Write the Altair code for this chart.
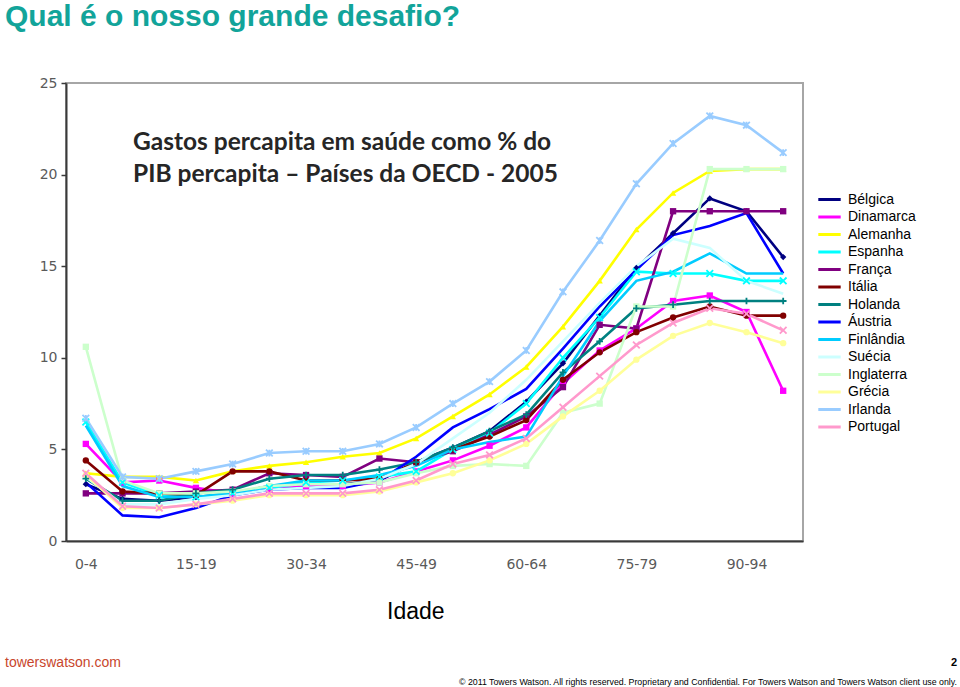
import altair as alt
import pandas as pd

ages = ["0-4", "5-9", "10-14", "15-19", "20-24", "25-29", "30-34", "35-39", "40-44", "45-49",
        "50-54", "55-59", "60-64", "65-69", "70-74", "75-79", "80-84", "85-89", "90-94", "95-99"]
shown_ages = ["0-4", "15-19", "30-34", "45-49", "60-64", "75-79", "90-94"]

countries = ["Bélgica", "Dinamarca", "Alemanha", "Espanha", "França", "Itália", "Holanda",
             "Áustria", "Finlândia", "Suécia", "Inglaterra", "Grécia", "Irlanda", "Portugal"]
colors = ["#000080", "#FF00FF", "#FFFF00", "#00FFFF", "#800080", "#800000", "#008080",
          "#0000FF", "#00CCFF", "#CCFFFF", "#CCFFCC", "#FFFF99", "#99CCFF", "#FF99CC"]

belgica = [3.1, 2.3, 2.2, 2.4, 2.6, 3.0, 3.1, 3.1, 3.3, 4.3, 5.1, 6.0, 7.6, 9.7, 12.3, 14.9, 16.8, 18.7, 18.0, 15.5]
dinamarca = [5.3, 3.2, 3.3, 2.9, 2.6, 2.8, 3.0, 3.0, 3.2, 3.8, 4.4, 5.2, 6.2, 8.6, 10.4, 11.6, 13.1, 13.4, 12.5, 8.2]
alemanha = [3.7, 3.5, 3.5, 3.3, 3.8, 4.1, 4.3, 4.6, 4.8, 5.6, 6.8, 8.0, 9.5, 11.7, 14.2, 17.0, 19.0, 20.2, 20.3, 20.3]
espanha = [6.5, 3.2, 2.5, 2.4, 2.6, 2.9, 3.2, 3.3, 3.5, 3.8, 5.0, 5.9, 7.5, 10.0, 12.2, 14.7, 14.6, 14.6, 14.2, 14.2]
franca = [2.6, 2.6, 2.6, 2.7, 2.8, 3.7, 3.6, 3.5, 4.5, 4.3, 4.9, 5.8, 6.8, 8.4, 11.8, 11.6, 18.0, 18.0, 18.0, 18.0]
italia = [4.4, 2.7, 2.6, 2.5, 3.8, 3.8, 3.3, 3.3, 3.4, 4.3, 5.0, 5.7, 6.6, 8.8, 10.3, 11.4, 12.2, 12.8, 12.3, 12.3]
holanda = [3.4, 2.2, 2.2, 2.6, 2.8, 3.4, 3.6, 3.6, 3.9, 4.3, 5.1, 6.0, 6.9, 9.2, 10.9, 12.7, 12.9, 13.1, 13.1, 13.1]
austria = [3.2, 1.4, 1.3, 1.8, 2.5, 2.8, 2.9, 2.9, 3.3, 4.6, 6.2, 7.2, 8.3, 10.5, 12.8, 14.8, 16.7, 17.2, 17.9, 14.6]
finlandia = [6.3, 3.0, 2.4, 2.4, 2.6, 3.0, 3.3, 3.3, 3.6, 4.1, 5.0, 5.4, 5.7, 9.0, 12.0, 14.2, 14.7, 15.7, 14.6, 14.6]
suecia = [3.5, 2.0, 2.0, 2.3, 2.5, 2.8, 2.9, 3.0, 3.4, 4.2, 5.6, 7.0, 8.8, 10.9, 13.0, 15.0, 16.5, 16.0, 14.2, 13.5]
inglaterra = [10.6, 3.3, 2.6, 2.6, 2.7, 3.0, 3.1, 3.1, 3.2, 3.7, 4.1, 4.2, 4.1, 7.0, 7.5, 12.8, 12.8, 20.3, 20.3, 20.3]
grecia = [3.6, 1.8, 1.8, 2.0, 2.2, 2.5, 2.5, 2.5, 2.7, 3.2, 3.7, 4.4, 5.3, 6.8, 8.2, 9.9, 11.2, 11.9, 11.4, 10.8]
irlanda = [6.7, 3.5, 3.4, 3.8, 4.2, 4.8, 4.9, 4.9, 5.3, 6.2, 7.5, 8.7, 10.4, 13.6, 16.4, 19.5, 21.7, 23.2, 22.7, 21.2]
portugal = [3.7, 1.9, 1.8, 2.0, 2.3, 2.6, 2.6, 2.6, 2.8, 3.3, 4.2, 4.7, 5.6, 7.3, 9.0, 10.7, 11.9, 12.7, 12.4, 11.5]

series = [belgica, dinamarca, alemanha, espanha, franca, italia, holanda,
          austria, finlandia, suecia, inglaterra, grecia, irlanda, portugal]

filled_markers = {"Bélgica": "diamond", "Dinamarca": "square", "Alemanha": "triangle-up",
                  "França": "square", "Itália": "circle", "Inglaterra": "square", "Grécia": "circle"}
stroke_markers = {"Espanha": "M-1,-1L1,1M-1,1L1,-1", "Holanda": "M0,-1L0,1M-1,0L1,0",
                  "Irlanda": "M-1,-1L1,1M-1,1L1,-1M0,-1L0,1", "Portugal": "M-1,-1L1,1M-1,1L1,-1"}

rows = []
for ci, (c, vals) in enumerate(zip(countries, series)):
    for a, v in zip(ages, vals):
        rows.append({"pais": c, "idade": a, "valor": v, "ordem": ci})
df = pd.DataFrame(rows)

x_enc = alt.X("idade:N", sort=ages,
              scale=alt.Scale(type="point", padding=0.54),
              axis=alt.Axis(values=shown_ages, title=None, labelAngle=0, ticks=False,
                            labelPadding=16, labelFont="DejaVu Sans", labelFontSize=14,
                            labelColor="#5a5a5a", domainColor="#3a3a3a", domainWidth=2))
y_enc = alt.Y("valor:Q", scale=alt.Scale(domain=[0, 25], nice=False),
              axis=alt.Axis(values=[0, 5, 10, 15, 20, 25], title=None, grid=False,
                            tickSize=5, tickColor="#3a3a3a", tickWidth=1.5, labelPadding=4,
                            labelFont="DejaVu Sans", labelFontSize=14, labelColor="#5a5a5a",
                            domainColor="#3a3a3a", domainWidth=2))
color_scale = alt.Scale(domain=countries, range=colors)

base = alt.Chart(df)

lines = base.mark_line(strokeWidth=2.6).encode(
    x=x_enc, y=y_enc,
    color=alt.Color("pais:N", scale=color_scale, sort=countries,
                    legend=alt.Legend(title=None, orient="none", legendX=754, legendY=107,
                                      symbolType="M-1.4,0L1.4,0", symbolSize=256,
                                      symbolStrokeWidth=3,
                                      labelFont="Liberation Sans", labelFontSize=14,
                                      labelColor="#000000", rowPadding=0.5, labelOffset=9,
                                      padding=0)),
    order=alt.Order("ordem:Q"),
)

filled_pts = base.transform_filter(
    alt.FieldOneOfPredicate(field="pais", oneOf=list(filled_markers.keys()))
).mark_point(filled=True, size=40, opacity=1).encode(
    x=x_enc, y=y_enc,
    color=alt.Color("pais:N", scale=color_scale, legend=None),
    shape=alt.Shape("pais:N", scale=alt.Scale(domain=list(filled_markers.keys()),
                                              range=list(filled_markers.values())), legend=None),
)

stroke_pts = base.transform_filter(
    alt.FieldOneOfPredicate(field="pais", oneOf=list(stroke_markers.keys()))
).mark_point(filled=False, size=45, strokeWidth=1.8, opacity=1).encode(
    x=x_enc, y=y_enc,
    color=alt.Color("pais:N", scale=color_scale, legend=None),
    shape=alt.Shape("pais:N", scale=alt.Scale(domain=list(stroke_markers.keys()),
                                              range=list(stroke_markers.values())), legend=None),
)

one = pd.DataFrame({"t": [""]})

def txt(text, x, y, size, color="#000000", font="Liberation Sans", weight="normal",
        align="left", baseline="alphabetic"):
    return alt.Chart(one).mark_text(text=text, fontSize=size, color=color, font=font,
                                    fontWeight=weight, align=align, baseline=baseline).encode(
        x=alt.value(x), y=alt.value(y))

inner1 = txt("Gastos percapita em saúde como % do", 67, 60, 24.5, "#262626", "Lato", "bold",
             baseline="middle")
inner2 = txt("PIB percapita – Países da OECD - 2005", 67, 92, 24.5, "#262626", "Lato", "bold",
             baseline="middle")
page_title = txt("Qual é o nosso grande desafio?", -61, -57, 30, "#12A49A", "Liberation Sans", "bold")
idade = txt("Idade", 321, 536, 23, "#000000", "Liberation Sans")
site = txt("towerswatson.com", -61, 667 - 83, 14, "#C8462C", "Liberation Sans")
page_no = txt("2", 891, 666 - 83, 11, "#000000", "Liberation Sans", "bold", align="right")
copyright_t = txt("© 2011 Towers Watson. All rights reserved. Proprietary and Confidential. "
                  "For Towers Watson and Towers Watson client use only.",
                  891, 685 - 83, 8.8, "#000000", "Liberation Sans", align="right")

chart = alt.layer(lines, filled_pts, stroke_pts, inner1, inner2, page_title, idade, site,
                  page_no, copyright_t).resolve_scale(shape="independent").properties(
    width=737, height=458,
    autosize=alt.AutoSizeParams(type="none"),
    padding={"left": 66, "top": 83, "right": 157, "bottom": 146},
    background="#ffffff",
).configure_view(stroke="#a6a6a6", strokeWidth=2)

chart.save("out.html", embed_options={"renderer": "svg", "actions": False})
